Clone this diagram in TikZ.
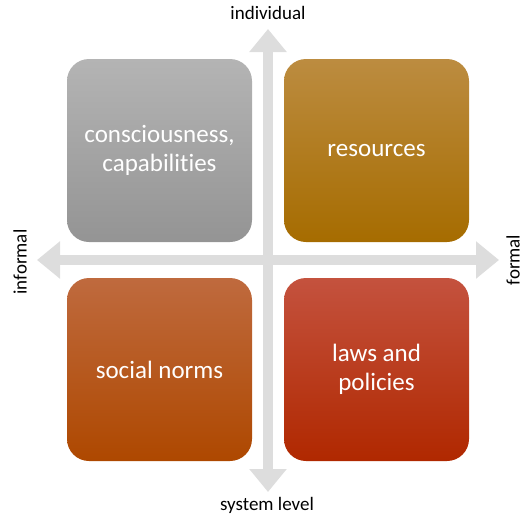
\documentclass[tikz,border=0pt]{standalone}
\usepackage{fontspec}
\setmainfont[Ligatures=NoCommon]{Carlito}
\usepackage{tikz}
\usetikzlibrary{arrows.meta}
\definecolor{axisgrey}{RGB}{221,221,221}
\definecolor{greytop}{RGB}{180,180,180}
\definecolor{greybot}{RGB}{148,148,148}
\definecolor{goldtop}{RGB}{188,140,64}
\definecolor{goldbot}{RGB}{166,108,0}
\definecolor{rusttop}{RGB}{191,106,62}
\definecolor{rustbot}{RGB}{174,72,0}
\definecolor{redtop}{RGB}{196,82,62}
\definecolor{redbot}{RGB}{176,40,0}
\tikzset{
  quad/.style={rectangle, rounded corners=22pt, minimum width=185pt, minimum height=183pt,
    align=center, text=white, font=\fontsize{25}{29}\selectfont, inner sep=0pt},
  grey/.style={quad, top color=greytop, bottom color=greybot},
  gold/.style={quad, top color=goldtop, bottom color=goldbot},
  rust/.style={quad, top color=rusttop, bottom color=rustbot},
  brick/.style={quad, top color=redtop, bottom color=redbot},
  axis/.style={draw=axisgrey, line width=10pt,
    {Triangle[width=36pt,length=23pt]}-{Triangle[width=36pt,length=23pt]}},
  axlbl/.style={font=\fontsize{19}{22}\selectfont, text=black, inner sep=0pt},
}
\begin{document}
\begin{tikzpicture}[x=1pt,y=-1pt]
  \useasboundingbox (0,0) rectangle (531,525);
  % axes
  \coordinate (top) at (268,29);
  \coordinate (bot) at (268,492);
  \coordinate (lft) at (37,260);
  \coordinate (rgt) at (499,260);
  \draw[axis] (top) -- (bot);
  \draw[axis] (lft) -- (rgt);
  % quadrants
  \node[grey]  (consc) at (159.5,150.5) {\rule{0pt}{10pt}consciousness,\\capabilities};
  \node[gold]  (res)   at (376.5,150.5) {\rule{0pt}{10pt}resources};
  \node[rust]  (norms) at (159.5,369.5) {social norms};
  \node[brick] (laws)  at (376.5,369.5) {\rule{0pt}{10pt}laws and\\policies};
  % axis labels
  \node[axlbl] (indiv)  at (268,13)  {individual};
  \node[axlbl] (sys)    at (267,505) {system level};
  \node[axlbl,rotate=90] (inf)  at (20,262)  {informal};
  \node[axlbl,rotate=90] (form) at (513,260) {formal};
\end{tikzpicture}
\end{document}
